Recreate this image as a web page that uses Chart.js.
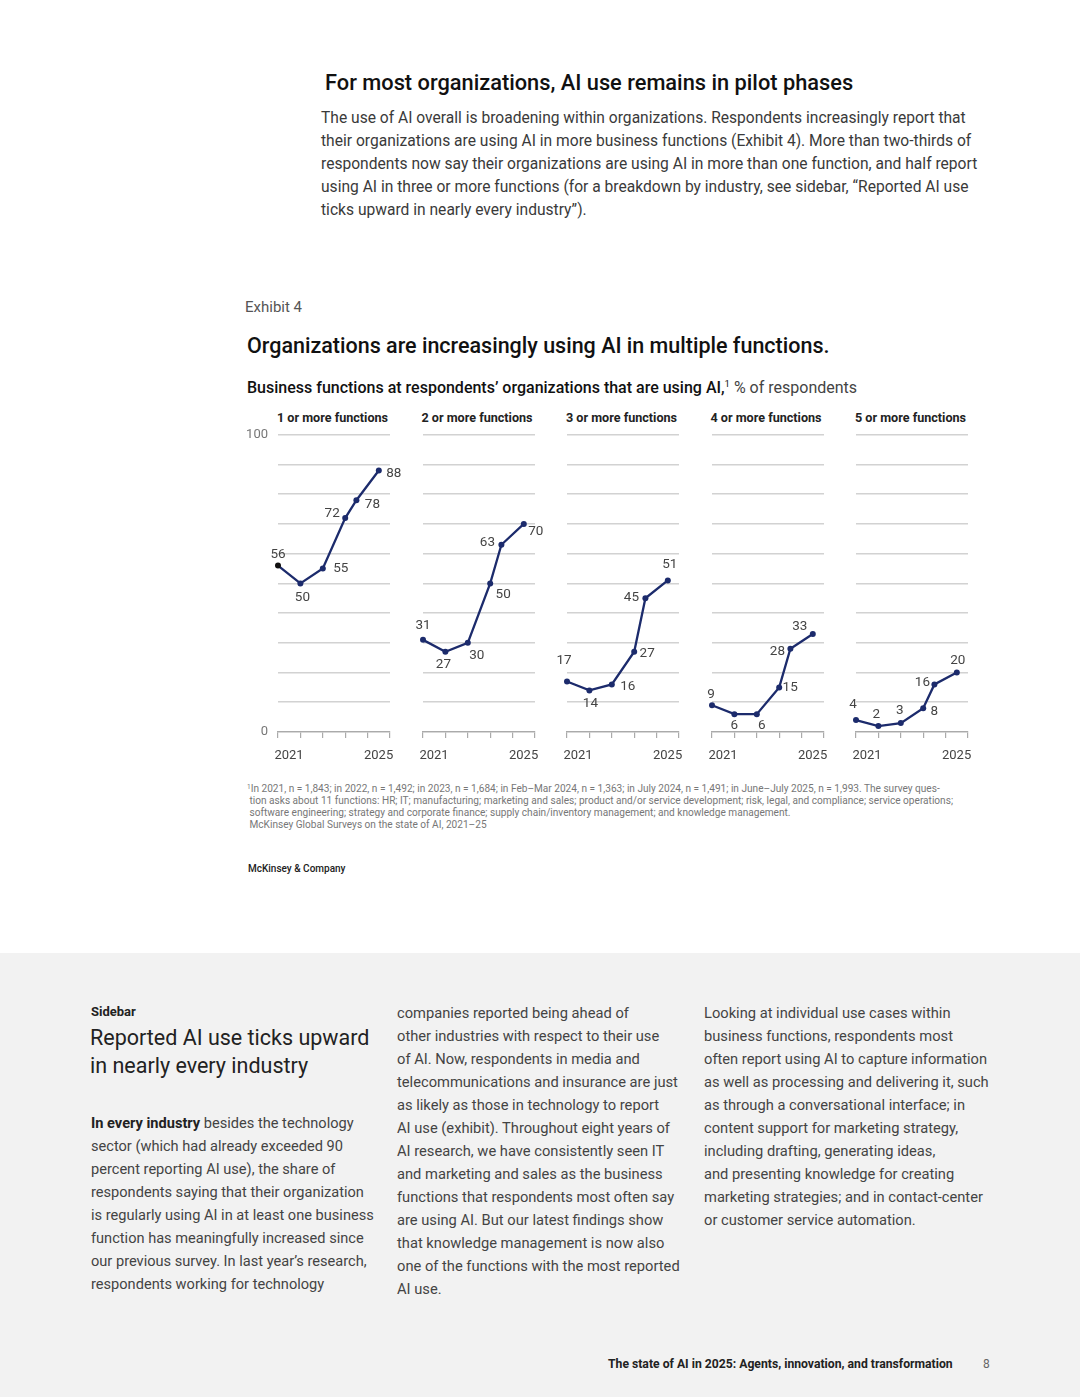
<!DOCTYPE html>
<html>
<head>
<meta charset="utf-8">
<script src="https://cdn.jsdelivr.net/npm/chart.js@4/dist/chart.umd.min.js"></script>
<style>
  html, body { margin:0; padding:0; }
  body { width:1080px; height:1397px; position:relative; background:#fff; font-family:Roboto, "Liberation Sans", sans-serif; color:#222; overflow:hidden; }
  .t { position:absolute; white-space:nowrap; }
  .panel { position:absolute; }
  .gray { position:absolute; left:0; top:953px; width:1080px; height:444px; background:#f2f2f2; }
</style>
</head>
<body>
<div class="t" style="left:325px; top:70px; font-size:21.8px; line-height:26px; font-weight:500; color:#111;">For most organizations, AI use remains in pilot phases</div>
<div class="t" style="left:321px; top:106.5px; font-size:15.6px; line-height:23px; color:#3a3a3a;">The use of AI overall is broadening within organizations. Respondents increasingly report that<br>their organizations are using AI in more business functions (Exhibit 4). More than two-thirds of<br>respondents now say their organizations are using AI in more than one function, and half report<br>using AI in three or more functions (for a breakdown by industry, see sidebar, “Reported AI use<br>ticks upward in nearly every industry”).</div>

<div class="t" style="left:245px; top:297px; font-size:15px; line-height:20px; color:#555;">Exhibit 4</div>
<div class="t" style="left:247px; top:334px; font-size:21.5px; line-height:24px; font-weight:500; color:#111;">Organizations are increasingly using AI in multiple functions.</div>
<div class="t" style="left:247px; top:378px; font-size:16px; line-height:20px; color:#111;"><span style="font-weight:500;">Business functions at respondents’ organizations that are using AI,</span><sup style="font-size:9.5px; vertical-align:6px; line-height:0;">1</sup> <span style="color:#444;">% of respondents</span></div>

<div id="panels"></div>

<div class="t" style="left:247px; top:783px; font-size:10.1px; line-height:12px; color:#777;"><sup style="font-size:6.5px; vertical-align:3px; line-height:0;">1</sup>In 2021, n = 1,843; in 2022, n = 1,492; in 2023, n = 1,684; in Feb–Mar 2024, n = 1,363; in July 2024, n = 1,491; in June–July 2025, n = 1,993. The survey ques-<br>&nbsp;tion asks about 11 functions: HR; IT; manufacturing; marketing and sales; product and/or service development; risk, legal, and compliance; service operations;<br>&nbsp;software engineering; strategy and corporate finance; supply chain/inventory management; and knowledge management.<br>&nbsp;McKinsey Global Surveys on the state of AI, 2021–25</div>
<div class="t" style="left:248px; top:862px; font-size:10px; line-height:14px; font-weight:500; color:#222;">McKinsey &amp; Company</div>

<div class="gray"></div>
<div class="t" style="left:91px; top:1003px; font-size:13px; line-height:18px; font-weight:700; color:#222;">Sidebar</div>
<div class="t" style="left:90px; top:1024px; font-size:21.5px; line-height:28px; color:#222;">Reported AI use ticks upward<br>in nearly every industry</div>
<div class="t" style="left:91px; top:1111.5px; font-size:14.6px; line-height:23px; color:#444;"><b style="color:#222; font-weight:700;">In every industry</b> besides the technology<br>sector (which had already exceeded 90<br>percent reporting AI use), the share of<br>respondents saying that their organization<br>is regularly using AI in at least one business<br>function has meaningfully increased since<br>our previous survey. In last year’s research,<br>respondents working for technology</div>
<div class="t" style="left:397px; top:1001.5px; font-size:14.7px; line-height:23px; color:#444;">companies reported being ahead of<br>other industries with respect to their use<br>of AI. Now, respondents in media and<br>telecommunications and insurance are just<br>as likely as those in technology to report<br>AI use (exhibit). Throughout eight years of<br>AI research, we have consistently seen IT<br>and marketing and sales as the business<br>functions that respondents most often say<br>are using AI. But our latest findings show<br>that knowledge management is now also<br>one of the functions with the most reported<br>AI use.</div>
<div class="t" style="left:704px; top:1001.5px; font-size:14.7px; line-height:23px; color:#444;">Looking at individual use cases within<br>business functions, respondents most<br>often report using AI to capture information<br>as well as processing and delivering it, such<br>as through a conversational interface; in<br>content support for marketing strategy,<br>including drafting, generating ideas,<br>and presenting knowledge for creating<br>marketing strategies; and in contact-center<br>or customer service automation.</div>
<div class="t" style="left:608px; top:1356px; font-size:12.2px; line-height:16px; font-weight:700; color:#222;">The state of AI in 2025: Agents, innovation, and transformation</div>
<div class="t" style="left:983px; top:1356px; font-size:12px; line-height:16px; color:#666;">8</div>

<script>
// ---- Data ----
const panelTitles = ["1 or more functions", "2 or more functions", "3 or more functions", "4 or more functions", "5 or more functions"];
// survey waves: 2021, 2022, 2023, Feb–Mar 2024, July 2024, June–July 2025 (position in years since 2021)
const surveyWaves = [0, 1, 2, 3, 3.5, 4.5];
const oneOrMore   = [56, 50, 55, 72, 78, 88];
const twoOrMore   = [31, 27, 30, 50, 63, 70];
const threeOrMore = [17, 14, 16, 27, 45, 51];
const fourOrMore  = [9, 6, 6, 15, 28, 33];
const fiveOrMore  = [4, 2, 3, 8, 16, 20];
const yearTicks = { 0: "2021", 4: "2025" };
const yTickLabels = { 0: "0", 100: "100" };

const seriesList = [oneOrMore, twoOrMore, threeOrMore, fourOrMore, fiveOrMore];

// label placement offsets (px) relative to each point — styling only
const labelOffsets = [
  [[0,-11],[2,14],[18,0],[-13,-4],[16,4],[15,3]],
  [[0,-14],[-2,13],[9,13],[13,11],[-14,-2],[12,8]],
  [[-3,-21],[1,13],[16,2],[13,2],[-14,-1],[2,-16]],
  [[-1,-11],[0,11],[5,11],[11,0],[-13,3],[-13,-7]],
  [[-3,-15],[-2,-11],[-1,-12],[11,3],[-12,-2],[1,-12]]
];

const NAVY = '#1c2b6c';
const FONT = 'Roboto, "Liberation Sans", sans-serif';

const valueLabels = {
  id: 'valueLabels',
  afterDatasetsDraw(chart, args, opts) {
    const ctx = chart.ctx;
    const meta = chart.getDatasetMeta(0);
    const data = chart.data.datasets[0].data;
    ctx.save();
    ctx.font = '13.5px ' + FONT;
    ctx.fillStyle = '#444';
    ctx.textAlign = 'center';
    ctx.textBaseline = 'middle';
    meta.data.forEach((pt, i) => {
      const off = opts.offsets[i];
      ctx.fillText(String(data[i].y), pt.x + off[0], pt.y + off[1]);
    });
    ctx.restore();
  }
};

const PLOT_LEFT0 = 278, PLOT_STEP = 144.5, Y_AXIS_W = 40, PAD_TOP = 10, AUTO_TOP = 7, X_AXIS_H = 34, PAD_RIGHT = 25;
const container = document.getElementById('panels');

seriesList.forEach((series, p) => {
  const left = PLOT_LEFT0 + p * PLOT_STEP;
  const title = document.createElement('div');
  title.className = 't';
  title.style.cssText = `left:${left - 1}px; top:410px; font-size:12.6px; line-height:16px; font-weight:700; color:#222;`;
  title.textContent = panelTitles[p];
  container.appendChild(title);

  const wrap = document.createElement('div');
  wrap.className = 'panel';
  const W = Y_AXIS_W + 112 + PAD_RIGHT, H = PAD_TOP + AUTO_TOP + 298 + X_AXIS_H;
  wrap.style.cssText = `left:${left - Y_AXIS_W}px; top:${434 - PAD_TOP - AUTO_TOP}px; width:${W}px; height:${H}px;`;
  const cv = document.createElement('canvas');
  wrap.appendChild(cv);
  container.appendChild(wrap);

  const pts = series.map((v, i) => ({ x: surveyWaves[i], y: v }));
  new Chart(cv, {
    type: 'line',
    data: { datasets: [{
      data: pts,
      borderColor: NAVY,
      borderWidth: 2.3,
      pointRadius: 3,
      pointHoverRadius: 3,
      pointBackgroundColor: pts.map((d, i) => (p === 0 && i === 0) ? '#111' : NAVY),
      pointBorderWidth: 0,
      tension: 0,
      clip: false
    }]},
    options: {
      responsive: true,
      maintainAspectRatio: false,
      animation: false,
      layout: { padding: { top: PAD_TOP, right: PAD_RIGHT, left: 0, bottom: 0 } },
      plugins: { legend: { display: false }, tooltip: { enabled: false }, valueLabels: { offsets: labelOffsets[p] } },
      scales: {
        x: {
          type: 'linear', min: 0, max: 5,
          afterFit(s) { s.height = X_AXIS_H; },
          ticks: {
            stepSize: 1, autoSkip: false, maxRotation: 0,
            callback: v => yearTicks[v] || '',
            labelOffset: 11, padding: 10,
            color: '#444', font: { family: FONT, size: 13 }
          },
          grid: { drawOnChartArea: false, drawTicks: true, tickLength: 6, color: '#aaa', lineWidth: 1.2 },
          border: { display: true, color: '#aaa', width: 1.2 }
        },
        y: {
          min: 0, max: 100,
          afterFit(s) { s.width = Y_AXIS_W; },
          ticks: {
            stepSize: 10,
            callback: v => p === 0 ? (yTickLabels[v] || '') : '',
            padding: 10, color: '#777', font: { family: FONT, size: 13 }
          },
          grid: { drawTicks: false, color: '#d2d2d2', lineWidth: 1.6 },
          border: { display: false }
        }
      }
    },
    plugins: [valueLabels]
  });
});
</script>
</body>
</html>
